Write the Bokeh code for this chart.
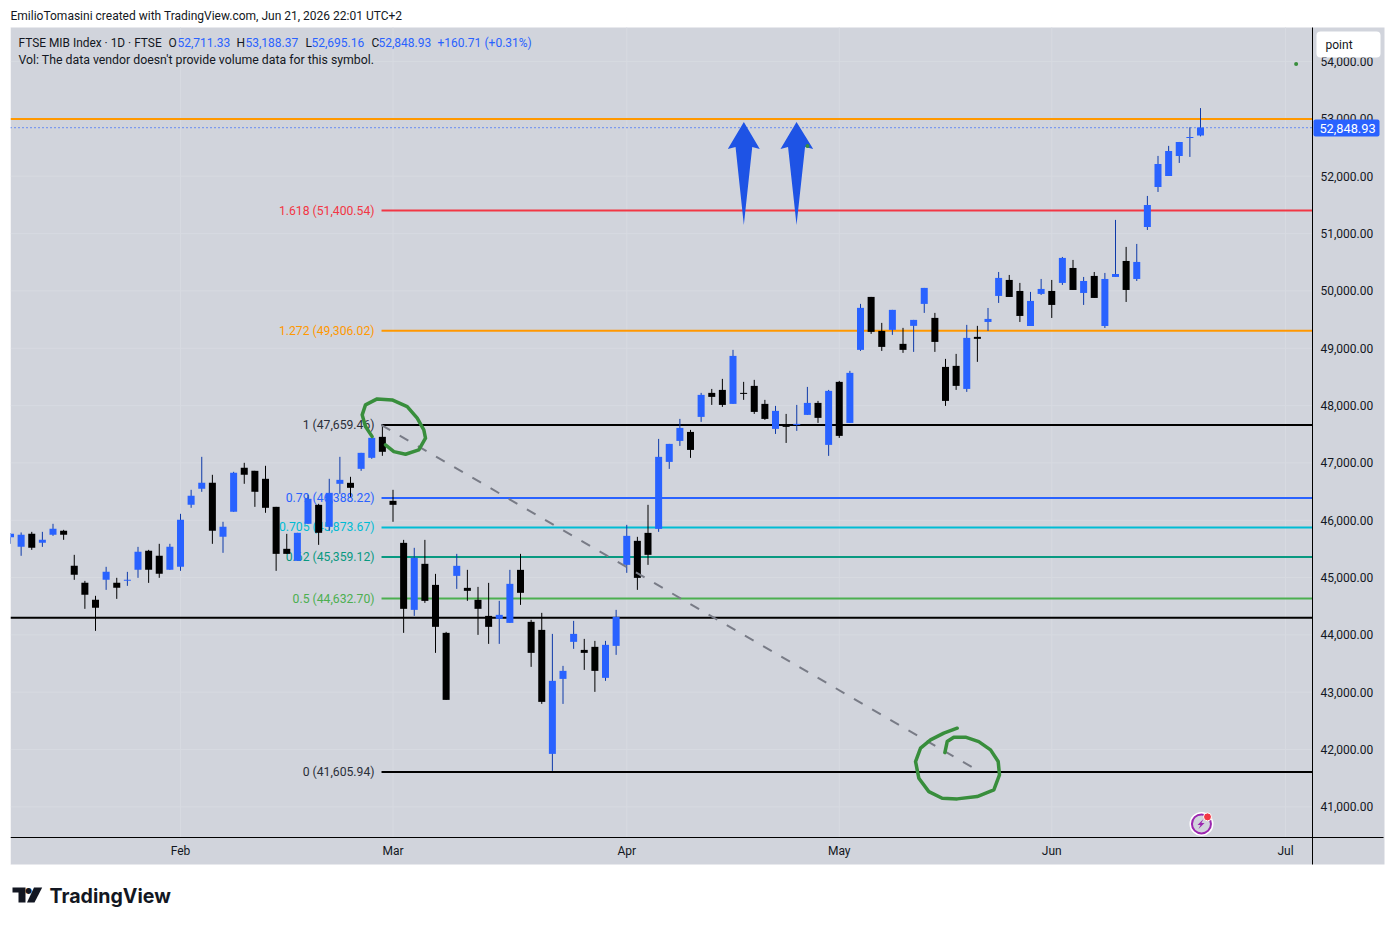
from bokeh.plotting import figure
from bokeh.models import Range1d, FixedTicker, Label, BoxAnnotation, PolyAnnotation, NumeralTickFormatter
from bokeh.core.properties import value
from bokeh.embed import file_html
from bokeh.resources import INLINE

bar_index = list(range(-16, 97))
opens = [45704,45535,45762,45605,45745,45815,45204,44907,44611,44960,44907,44942,45134,45466,45379,45134,45187,46268,46547,46652,45710,46146,46914,46861,46722,46233,45501,45291,45937,46268,45884,46635,46652,46896,47088,47454,46338,
45605,44436,45239,44872,44035,45029,44820,44611,44331,44279,44209,45134,44227,44087,41924,43232,43878,43738,43791,43250,43808,45221,45640,45779,45849,
47017,47383,47540,47802,48221,48273,48029,48221,48343,48029,47593,47662,47662,47837,48046,47314,48413,47697,48971,49895,49302,49320,49076,49390,49773,49529,48674,48692,48290,49198,
49458,49912,50191,49999,49388,49947,49999,50139,50400,49964,50261,49388,50243,50522,50208,51115,51813,52005,52354,52668,52711.33]
highs = [45774,45786,45797,45797,45937,45832,45396,44942,44681,45187,44995,45099,45535,45483,45588,45588,46111,46530,47105,46792,45972,46844,47001,46861,46949,46233,45762,45780,46443,46286,46722,47105,46757,47175,47454,47664,46530,
45657,45518,45657,45064,44052,45413,45134,44837,44907,44593,45134,45413,44262,44384,44017,43459,44244,43930,43895,43895,44436,45919,45710,46268,47418,
47331,47767,47575,48221,48290,48465,48971,48413,48448,48099,47994,47854,48011,48325,48081,48273,48430,48605,49773,49895,49442,49669,49355,49494,50052,49616,48814,48901,49407,49390,
49702,50330,50278,50139,49982,50208,50191,50592,50540,50243,50330,50313,51238,50767,50819,51656,52354,52529,52598,52854,53188.37]
lows = [45588,45379,45483,45535,45727,45658,44960,44454,44070,44785,44628,44855,44995,44907,44995,45134,45117,46216,46495,45588,45431,46146,46635,46233,46129,45117,45413,45291,45937,45570,45815,46460,46408,46861,47071,47123,45972,
44035,44331,44558,43686,42866,44802,44593,44000,43843,43843,44209,44523,43442,42796,41627,42796,43756,43389,43006,43198,43651,45082,44785,45221,45797,
46895,47296,47087,47715,48011,47976,48029,48099,47854,47750,47505,47348,47558,47837,47697,47122,47436,47697,48953,49250,48953,49233,48919,48936,49616,48936,47994,48273,48238,48762,
49301,49790,49894,49458,49388,49929,49528,50104,50016,49755,49877,49353,50243,49807,50173,51063,51726,52005,52232,52337,52695.16]
closes = [45762,45745,45518,45658,45849,45745,45047,44698,44471,45099,44820,44960,45448,45134,45064,45535,46007,46425,46652,45815,45884,46826,46792,46495,46216,45413,45413,45780,46373,45780,46477,46704,46565,47175,47437,47193,46268,
44454,45343,44593,44140,42866,45204,44768,44454,44140,44349,44890,44733,43686,42831,43198,43372,44017,43686,43372,43826,44314,45727,44994,45396,47105,
47331,47610,47226,48186,48151,48011,48866,48203,47889,47767,47907,47628,47680,48046,47785,48256,47471,48570,49704,49285,49023,49669,48971,49494,50052,49110,48081,48343,49180,49163,
49511,50226,49894,49563,49825,50034,49755,50575,50016,50173,49877,50208,50295,50016,50505,51499,52215,52441,52598,52686,52848.93]

x_tick_pos = [0, 20, 42, 62, 82, 104]
x_tick_labels = ["Feb", "Mar", "Apr", "May", "Jun", "Jul"]
y_ticks = [41000 + 1000 * k for k in range(14)]

fib_labels = ["1.618 (51,400.54)", "1.272 (49,306.02)", "1 (47,659.46)", "0.79 (46,388.22)",
              "0.705 (45,873.67)", "0.62 (45,359.12)", "0.5 (44,632.70)", "0 (41,605.94)"]
fib_levels = [51400.54, 49306.02, 47659.46, 46388.22, 45873.67, 45359.12, 44632.70, 41605.94]
fib_colors = ["#f23645", "#ff9800", "#000000", "#2962ff", "#00bcd4", "#089981", "#4caf50", "#000000"]
fib_text_colors = ["#f23645", "#ff9800", "#2a2e39", "#2962ff", "#00bcd4", "#089981", "#4caf50", "#2a2e39"]
full_lines = [53000, 44300]
full_colors = ["#ff9800", "#000000"]
last_price = 52848.93

arrow1_x = [53.02, 54.52, 53.81, 53.02, 52.24, 51.51]
arrow2_x = [57.98, 59.55, 58.78, 57.98, 57.18, 56.47]
arrow_y = [52948, 52477, 52512, 51151, 52512, 52477]
ring1_x = [18.04,17.41,17.10,17.41,18.51,19.92,21.34,22.28,22.90,23.06,22.43,21.18,20.08,19.29]
ring1_y = [47458,47633,47837,48011,48116,48098,47981,47779,47575,47430,47226,47151,47197,47313]
ring2_x = [73.10,71.84,70.59,69.65,69.18,69.49,70.43,71.69,73.10,74.98,76.55,77.08,76.96,76.24,75.13,73.88,72.78,72.16,71.94]
ring2_y = [42372,42285,42168,42024,41790,41500,41266,41151,41139,41179,41296,41557,41790,41994,42139,42215,42215,42139,41946]

FONT = "Roboto"
FS = "12px"
BLUE = "#2962ff"
WICK_BLUE = "#0e3aa9"
PANEL = "#d1d4dc"
W, H = 1392, 920


def dx(px):
    return (px - 180) / 10.625


def dy(py):
    return 53000 - (py - 118.4) * 17.443


PLOT_L, PLOT_R = dx(10), dx(1312)
PLOT_T, PLOT_B = dy(27), dy(837)

p = figure(width=W, height=H, output_backend="svg", toolbar_location=None,
           x_range=Range1d(dx(0), dx(W)), y_range=Range1d(dy(H), dy(0)), y_axis_location="right",
           min_border=0, min_border_left=0, min_border_right=0, min_border_top=0, min_border_bottom=0,
           background_fill_color="#ffffff", border_fill_color="#ffffff", outline_line_color=None)

p.grid.visible = False
p.xaxis.ticker = FixedTicker(ticks=x_tick_pos)
p.xaxis.major_label_overrides = dict(zip(x_tick_pos, x_tick_labels))
p.yaxis.ticker = FixedTicker(ticks=y_ticks)
p.yaxis.formatter = NumeralTickFormatter(format="0,0.00")
p.xaxis.fixed_location = PLOT_B
p.yaxis.fixed_location = PLOT_R
p.xaxis.bounds = (PLOT_L, dx(1383))
p.yaxis.bounds = (dy(864), PLOT_T)
for ax in (p.xaxis[0], p.yaxis[0]):
    ax.axis_line_color = "#000000"
    ax.axis_line_width = 1
    ax.major_tick_line_color = None
    ax.minor_tick_line_color = None
    ax.major_label_text_font = FONT
    ax.major_label_text_font_size = FS
    ax.major_label_text_color = "#131722"
p.xaxis.major_label_standoff = 0
p.yaxis.major_label_standoff = 2


def box(x0, x1, y0, y1, color, level="underlay", **kw):
    p.add_layout(BoxAnnotation(left=x0, right=x1, top=y0, bottom=y1,
                               left_units="canvas", right_units="canvas", top_units="canvas", bottom_units="canvas",
                               fill_color=color, fill_alpha=1, line_color=None, level=level, **kw))


def label(x, y, text, color="#131722", size=FS, align="left", style="normal", font=FONT):
    p.add_layout(Label(x=x, y=y, x_units="canvas", y_units="canvas", text=text, text_color=color, text_font=font,
                       text_font_size=size, text_align=align, text_baseline="middle",
                       text_font_style=style, level="overlay"))


# chart panel
box(10, 1384, 27, 864, PANEL)

# faint grid
GRID = "#d7dae1"
p.segment(x0=[PLOT_L] * len(y_ticks), x1=[PLOT_R] * len(y_ticks), y0=y_ticks, y1=y_ticks, line_color=GRID, line_width=1)
p.segment(x0=x_tick_pos, x1=x_tick_pos, y0=[PLOT_B] * len(x_tick_pos), y1=[PLOT_T] * len(x_tick_pos),
          line_color=GRID, line_width=1)

# horizontal levels
p.segment(x0=[PLOT_L] * 2, x1=[PLOT_R] * 2, y0=full_lines, y1=full_lines, line_color=full_colors, line_width=2)
p.segment(x0=[18.92] * len(fib_levels), x1=[PLOT_R] * len(fib_levels), y0=fib_levels, y1=fib_levels,
          line_color=fib_colors, line_width=2)
p.segment(x0=[PLOT_L], x1=[PLOT_R], y0=[last_price], y1=[last_price], line_color=BLUE, line_width=1.3, line_dash="1 3")
p.text(x=[18.26] * len(fib_levels), y=fib_levels, text=fib_labels, text_color=fib_text_colors,
       text_font=value(FONT), text_font_size="12.2px", text_align="right", text_baseline="middle")

# candles
up = [c >= o for o, c in zip(opens, closes)]
p.segment(x0=bar_index, x1=bar_index, y0=lows, y1=highs, line_width=1,
          line_color=[WICK_BLUE if u else "#000000" for u in up])
p.vbar(x=bar_index, width=0.66, bottom=[min(o, c) for o, c in zip(opens, closes)],
       top=[max(o, c) for o, c in zip(opens, closes)],
       fill_color=[BLUE if u else "#000000" for u in up], line_color=None)

# drawings
p.line(x=[18.92, 75.3], y=[47659.46, 41605.94], line_color="#787b86", line_width=2, line_dash="10 11")
p.patch(x=arrow1_x, y=arrow_y, fill_color="#1e53e5", line_color=None)
p.patch(x=arrow2_x, y=arrow_y, fill_color="#1e53e5", line_color=None)
p.line(x=ring1_x, y=ring1_y, line_color="#388e3c", line_width=3.5, line_join="round", line_cap="round")
p.line(x=ring2_x, y=ring2_y, line_color="#388e3c", line_width=3.5, line_join="round", line_cap="round")
p.scatter(x=[105.0, 59.01], y=[53959, 52529], size=4, fill_color="#388e3c", line_color=None)

# lightning badge
p.scatter(x=[96.09], y=[40703], size=24, fill_color="#ffffff", line_color=None)
p.scatter(x=[96.09], y=[40703], size=19, fill_color=PANEL, line_color="#9c27b0", line_width=2)
p.patch(x=[96.28, 95.72, 96.0, 95.81, 96.38, 96.09], y=[40790, 40685, 40685, 40615, 40720, 40720],
        fill_color="#9c27b0", line_color=None)
p.scatter(x=[96.66], y=[40825], size=8, fill_color="#f23645", line_color="#ffffff", line_width=1)

# left edge of panel masks the cut candle
box(0, 10, 27, 864, "#ffffff", level="overlay")

# last-price tag and interval box
box(1313, 1379, 119, 136, BLUE, level="overlay", border_radius=2)
label(1347, 127.5, "52,848.93", color="#ffffff", align="center", size="12.8px")
box(1316, 1380, 31, 57, "#ffffff", level="overlay", border_radius=4)
label(1325, 44, "point")

# header
label(10, 15, "EmilioTomasini created with TradingView.com, Jun 21, 2026 22:01 UTC+2", size="12px")
label(18, 42, "FTSE MIB Index · 1D · FTSE", size="11.9px")
for x0, letter, x1, val in [(168, "O", 177, "52,711.33"), (236, "H", 245, "53,188.37"),
                            (305, "L", 311, "52,695.16"), (371, "C", 378, "52,848.93")]:
    label(x0, 42, letter)
    label(x1, 42, val, color=BLUE)
label(437, 42, "+160.71", color=BLUE)
label(484, 42, "(+0.31%)", color=BLUE)
label(18, 59, "Vol: The data vendor doesn't provide volume data for this symbol.", size="12.3px")

# logo
INK = "#131722"
for pts in ([(12, 887), (25, 887), (25, 902), (18, 902), (18, 892), (12, 892)],
            [(33.5, 887), (41.7, 887), (34, 902), (26.5, 902)]):
    p.add_layout(PolyAnnotation(xs=[a for a, b in pts], ys=[b for a, b in pts], xs_units="canvas", ys_units="canvas",
                                fill_color=INK, fill_alpha=1, line_color=None, level="overlay"))
label(28.2, 889.6, "●", color=INK, size="8px", align="center", font="DejaVu Sans")
label(49, 895, "TradingView", color=INK, size="19.6px", style="bold", font="Inter")

open("out.html", "w").write(file_html(p, INLINE))
